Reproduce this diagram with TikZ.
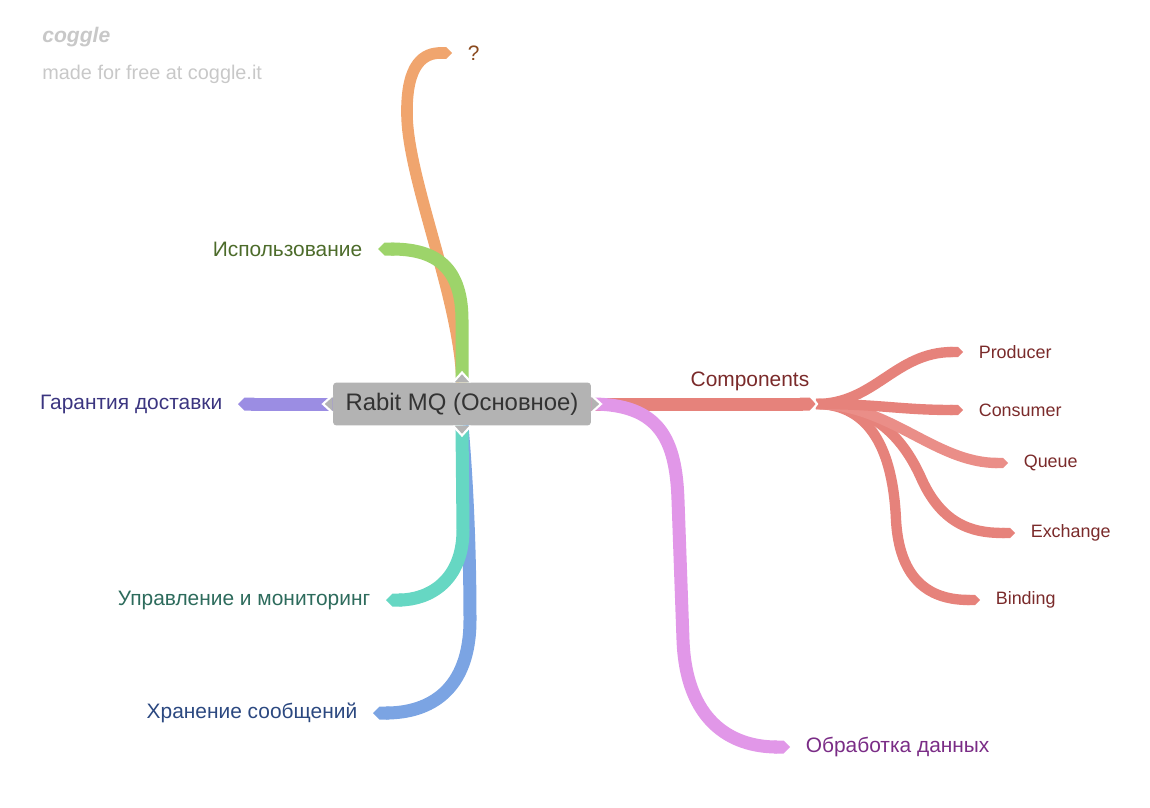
\documentclass[tikz,border=0pt]{standalone}
\usepackage{fontspec}
\setmainfont{Liberation Sans}
\usetikzlibrary{arrows.meta}
\definecolor{rootgray}{HTML}{B3B3B3}
\definecolor{rootink}{HTML}{333333}
\definecolor{wm}{HTML}{C8C8C8}
\definecolor{orangeb}{HTML}{F0A56E}
\definecolor{orangel}{HTML}{8A4A1E}
\definecolor{greenb}{HTML}{9DD46A}
\definecolor{greenl}{HTML}{4C6B2A}
\definecolor{lavb}{HTML}{9B8DE3}
\definecolor{lavl}{HTML}{3B3580}
\definecolor{tealb}{HTML}{66D7C3}
\definecolor{teall}{HTML}{2D6B5C}
\definecolor{blueb}{HTML}{7BA4E3}
\definecolor{bluel}{HTML}{2B4880}
\definecolor{pinkb}{HTML}{E197E8}
\definecolor{pinkl}{HTML}{7A2C86}
\definecolor{redb}{HTML}{E6827B}
\definecolor{redq}{HTML}{EA8E88}
\definecolor{redl}{HTML}{7A2A2A}

\begin{document}
\begin{tikzpicture}[x=0.02cm,y=-0.02cm,
	br/.style={line width=7.4pt,-{Triangle Cap}},
	sub/.style={line width=5.9pt,-{Triangle Cap}},
	lbl/.style={inner sep=1pt,outer sep=8pt,font=\fontsize{11.9}{14}\selectfont},
	sl/.style={inner sep=1pt,outer sep=8pt,font=\fontsize{10.2}{12}\selectfont},
	notch/.style={fill=rootgray,draw=white,line width=1.2pt}]
	\useasboundingbox (0,0) rectangle (1150,808);

	\node[anchor=west,inner sep=0,text=wm,font=\fontsize{12}{14}\selectfont\bfseries\itshape](logo) at (42,37) {coggle};
	\node[anchor=west,inner sep=0,text=wm,font=\fontsize{11.3}{13}\selectfont](free) at (42,74) {made for free at coggle.it};

	\node[fill=rootgray,rounded corners=2pt,minimum width=5.16cm,minimum height=0.86cm,inner sep=0,text=rootink,font=\fontsize{13.6}{16}\selectfont](root) at (462,404) {Rabit MQ (Основное)};

	\node[lbl,anchor=west,text=orangel](q) at (452,53) {?};
	\node[lbl,anchor=east,text=greenl](use) at (378,249) {Использование};
	\node[lbl,anchor=east,text=lavl](guar) at (238,404) {Гарантия доставки};
	\node[lbl,anchor=east,text=teall](mon) at (386,600) {Управление и мониторинг};
	\node[lbl,anchor=east,text=bluel](store) at (373,713) {Хранение сообщений};
	\node[lbl,anchor=west,text=pinkl](proc) at (790,747) {Обработка данных};
	\node[lbl,inner sep=0,outer sep=0,text=redl](comp) at (750,381) {Components};
	\coordinate (hub) at (816,404);
	\node[sl,anchor=west,text=redl](prod) at (963,352) {Producer};
	\node[sl,anchor=west,text=redl](cons) at (963,410) {Consumer};
	\node[sl,anchor=west,text=redl](queue) at (1008,463) {Queue};
	\node[sl,anchor=west,text=redl](exch) at (1015,533) {Exchange};
	\node[sl,anchor=west,text=redl](bind) at (980,600) {Binding};

	\draw[br,orangeb,line width=6.6pt] (root.north) .. controls (460,300) and (408,180) .. (407,115) .. controls (406,62) and (425,53) .. (q.west);
	\draw[br,greenb] (root.north) -- (462,320) .. controls (462,262) and (430,249) .. (use.east);
	\draw[br,lavb] (root.west) -- (guar.east);
	\draw[br,blueb] (root.south) .. controls (466,470) and (470,540) .. (470,620) .. controls (470,690) and (430,713) .. (store.east);
	\draw[br,tealb] (root.south) -- (463,530) .. controls (463,580) and (430,600) .. (mon.east);
	\draw[br,redb] (root.east) -- (hub);
	\draw[br,pinkb] (root.east) .. controls (660,404) and (676,440) .. (678,500) -- (683,640) .. controls (686,720) and (730,747) .. (proc.west);

	\draw[sub,redb] (hub) .. controls (870,404) and (893,450) .. (896,520) .. controls (900,590) and (940,600) .. (bind.west);
	\draw[sub,redb] (hub) .. controls (880,404) and (908,448) .. (922,480) .. controls (945,530) and (980,533) .. (exch.west);
	\draw[sub,redq] (hub) .. controls (890,404) and (935,463) .. (queue.west);
	\draw[sub,redb] (hub) .. controls (880,404) and (900,410) .. (cons.west);
	\draw[sub,redb] (hub) .. controls (875,404) and (895,352) .. (prod.west);
	\draw[white,line width=1.2pt] (hub) ++(-5,-8) -- ++(6,8) -- ++(-6,8);

	\filldraw[notch] ([xshift=-5pt]root.north) -- ([yshift=5.5pt]root.north) -- ([xshift=5pt]root.north);
	\filldraw[notch] ([xshift=-5pt]root.south) -- ([yshift=-5.5pt]root.south) -- ([xshift=5pt]root.south);
	\filldraw[notch] ([yshift=-5pt]root.west) -- ([xshift=-5.5pt]root.west) -- ([yshift=5pt]root.west);
	\filldraw[notch] ([yshift=-5pt]root.east) -- ([xshift=5.5pt]root.east) -- ([yshift=5pt]root.east);
\end{tikzpicture}
\end{document}
